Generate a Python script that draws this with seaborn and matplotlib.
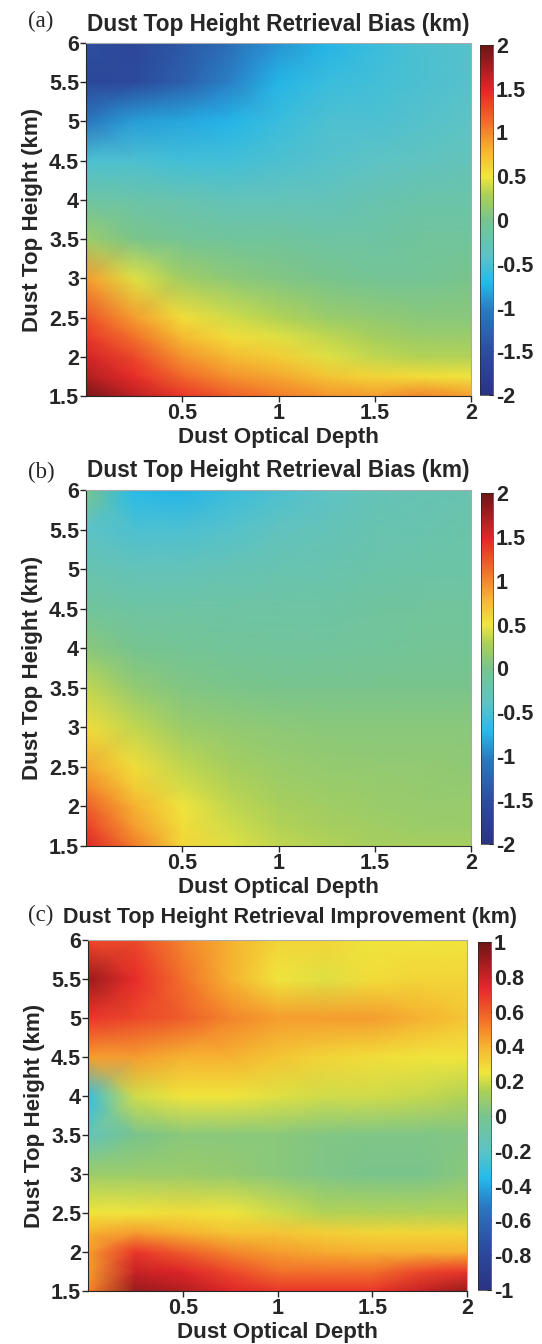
import numpy as np
import matplotlib
matplotlib.use("Agg")
import matplotlib.pyplot as plt
import seaborn as sns
from matplotlib.colors import LinearSegmentedColormap

# grid nodes (dust optical depth on x, dust top height on y)
optical_depth = [0.0, 0.25, 0.5, 0.75, 1.0, 1.25, 1.5, 1.75, 2.0]
top_height = [1.5, 1.75, 2.0, 2.25, 2.5, 3.0, 3.5, 4.0, 4.5, 5.0, 5.5, 6.0]

# (a) retrieval bias, rows follow top_height
bias_a = [
    [1.95, 1.65, 1.4, 1.2, 1.05, 0.95, 0.9, 1.0, 0.9],
    [1.7, 1.45, 1.15, 0.95, 0.85, 0.7, 0.6, 0.55, 0.5],
    [1.55, 1.3, 0.95, 0.75, 0.65, 0.45, 0.35, 0.3, 0.3],
    [1.4, 1.1, 0.75, 0.55, 0.45, 0.35, 0.25, 0.2, 0.2],
    [1.25, 0.9, 0.55, 0.4, 0.3, 0.2, 0.15, 0.1, 0.1],
    [0.9, 0.45, 0.22, 0.12, 0.05, 0.0, -0.05, -0.05, 0.0],
    [0.2, 0.02, -0.05, -0.1, -0.1, -0.15, -0.15, -0.1, -0.1],
    [-0.15, -0.2, -0.25, -0.3, -0.3, -0.3, -0.25, -0.2, -0.2],
    [-0.5, -0.5, -0.55, -0.55, -0.5, -0.45, -0.4, -0.35, -0.3],
    [-1.05, -0.85, -0.8, -0.75, -0.6, -0.5, -0.5, -0.45, -0.4],
    [-1.6, -1.55, -1.3, -1.0, -0.75, -0.6, -0.55, -0.5, -0.45],
    [-1.5, -1.6, -1.4, -1.15, -0.9, -0.75, -0.6, -0.5, -0.45],
]

# (b) retrieval bias after correction
bias_b = [
    [1.5, 1.05, 0.6, 0.45, 0.35, 0.3, 0.25, 0.25, 0.25],
    [1.35, 0.9, 0.55, 0.4, 0.3, 0.25, 0.22, 0.2, 0.2],
    [1.2, 0.8, 0.5, 0.35, 0.27, 0.22, 0.2, 0.18, 0.18],
    [1.0, 0.65, 0.42, 0.3, 0.23, 0.2, 0.18, 0.17, 0.15],
    [0.85, 0.55, 0.35, 0.25, 0.2, 0.17, 0.15, 0.15, 0.13],
    [0.55, 0.35, 0.2, 0.15, 0.12, 0.1, 0.1, 0.1, 0.1],
    [0.35, 0.15, 0.05, 0.02, 0.0, 0.0, 0.0, 0.0, 0.0],
    [0.1, -0.02, -0.05, -0.08, -0.1, -0.1, -0.08, -0.05, -0.05],
    [-0.1, -0.15, -0.15, -0.15, -0.15, -0.15, -0.12, -0.1, -0.1],
    [-0.25, -0.3, -0.3, -0.28, -0.25, -0.22, -0.2, -0.18, -0.18],
    [-0.4, -0.5, -0.5, -0.45, -0.35, -0.3, -0.25, -0.22, -0.2],
    [0.0, -0.7, -0.75, -0.6, -0.5, -0.4, -0.3, -0.28, -0.25],
]

# (c) retrieval improvement
improve_c = [
    [0.5, 0.9, 0.85, 0.75, 0.7, 0.7, 0.7, 0.8, 0.9],
    [0.45, 0.8, 0.75, 0.65, 0.55, 0.55, 0.55, 0.65, 0.7],
    [0.45, 0.7, 0.6, 0.5, 0.45, 0.42, 0.4, 0.4, 0.4],
    [0.4, 0.45, 0.4, 0.35, 0.35, 0.32, 0.3, 0.3, 0.3],
    [0.25, 0.25, 0.28, 0.25, 0.2, 0.15, 0.15, 0.15, 0.15],
    [0.1, 0.1, 0.1, 0.08, 0.05, 0.02, 0.0, 0.0, 0.05],
    [-0.15, 0.0, 0.05, 0.05, 0.05, 0.03, 0.02, 0.02, 0.03],
    [-0.3, 0.2, 0.25, 0.25, 0.22, 0.2, 0.2, 0.18, 0.15],
    [0.45, 0.45, 0.4, 0.4, 0.35, 0.3, 0.28, 0.25, 0.25],
    [0.7, 0.65, 0.6, 0.5, 0.45, 0.45, 0.45, 0.4, 0.35],
    [0.9, 0.72, 0.55, 0.4, 0.25, 0.22, 0.28, 0.3, 0.3],
    [0.65, 0.65, 0.5, 0.4, 0.3, 0.3, 0.25, 0.25, 0.25],
]

panel_tags = ["(a)", "(b)", "(c)"]
titles = ["Dust Top Height Retrieval Bias (km)",
          "Dust Top Height Retrieval Bias (km)",
          "Dust Top Height Retrieval Improvement (km)"]
limits = [2, 2, 1]
cbar_ticks = [[-2, -1.5, -1, -0.5, 0, 0.5, 1, 1.5, 2],
              [-2, -1.5, -1, -0.5, 0, 0.5, 1, 1.5, 2],
              [-1, -0.8, -0.6, -0.4, -0.2, 0, 0.2, 0.4, 0.6, 0.8, 1]]

# muted jet-like palette
cmap = LinearSegmentedColormap.from_list("dust", [
    (0.00, "#2a3382"), (0.12, "#2c4c9e"), (0.24, "#2b78c0"),
    (0.32, "#25baea"), (0.40, "#5ec3c6"), (0.50, "#78c48e"),
    (0.57, "#aacf5a"), (0.625, "#f0e63c"), (0.70, "#f6b431"),
    (0.78, "#f26d2a"), (0.87, "#e6262a"), (1.00, "#6c1616")])

sns.set_style("ticks")
plt.rcParams['font.family'] = ['Liberation Sans', 'DejaVu Sans']
plt.rcParams['font.weight'] = 'bold'
plt.rcParams['font.size'] = 15.5

fig = plt.figure(figsize=(5.42, 13.44), dpi=100)
W, H = 542.0, 1344.0
# pixel boxes: axes (left, top, right, bottom), colorbar (left, top, right, bottom)
ax_boxes = [(86, 43, 471, 396), (86, 490, 471, 846), (88, 940, 467, 1291)]
cb_boxes = [(480, 45, 493, 395), (481, 493, 493, 844), (478, 942, 491, 1290)]
title_sizes = [16.3, 16.3, 15.5]
title_x = [0.5, 0.5, 0.533]
title_pad = [9, 9, 12]
tag_y = [21, 472, 915]

X, Y = np.meshgrid(optical_depth, top_height)
datasets = [bias_a, bias_b, improve_c]

for i in range(3):
    l, t, r, b = ax_boxes[i]
    ax = fig.add_axes([l / W, 1 - b / H, (r - l) / W, (b - t) / H])
    lim = limits[i]
    mesh = ax.pcolormesh(X, Y, np.array(datasets[i]), cmap=cmap, vmin=-lim, vmax=lim,
                         shading="gouraud", rasterized=True)
    ax.set_xlim(0, 2)
    ax.set_ylim(1.5, 6)
    ax.set_xticks([0.5, 1, 1.5, 2])
    ax.set_xticklabels(["0.5", "1", "1.5", "2"])
    ax.set_yticks([1.5, 2, 2.5, 3, 3.5, 4, 4.5, 5, 5.5, 6])
    ax.set_yticklabels(["1.5", "2", "2.5", "3", "3.5", "4", "4.5", "5", "5.5", "6"])
    ax.tick_params(length=4, width=1, pad=1, labelsize=15.5)
    ax.set_xlabel("Dust Optical Depth", fontsize=16.1, fontweight="bold", labelpad=2)
    ax.set_ylabel("Dust Top Height (km)", fontsize=16.1, fontweight="bold", labelpad=4)
    ax.set_title(titles[i], fontsize=title_sizes[i], fontweight="bold",
                 pad=title_pad[i], x=title_x[i])
    for s in ["top", "right"]:
        ax.spines[s].set_color("#aaaaaa")
        ax.spines[s].set_linewidth(0.8)
    fig.text(28 / W, 1 - tag_y[i] / H, panel_tags[i], fontsize=16.5,
             family=["Liberation Serif", "DejaVu Serif"], fontweight="normal",
             ha="left", va="center")

    cl, ct, cr, cb = cb_boxes[i]
    cax = fig.add_axes([cl / W, 1 - cb / H, (cr - cl) / W, (cb - ct) / H])
    cbar = fig.colorbar(mesh, cax=cax, ticks=cbar_ticks[i])
    cbar.ax.set_yticklabels([f"{v:g}" for v in cbar_ticks[i]])
    cbar.ax.tick_params(direction="in", length=3, width=0.8, pad=2, labelsize=15.5)
    cbar.outline.set_linewidth(0.5)

fig.savefig("out.png", dpi=100)
